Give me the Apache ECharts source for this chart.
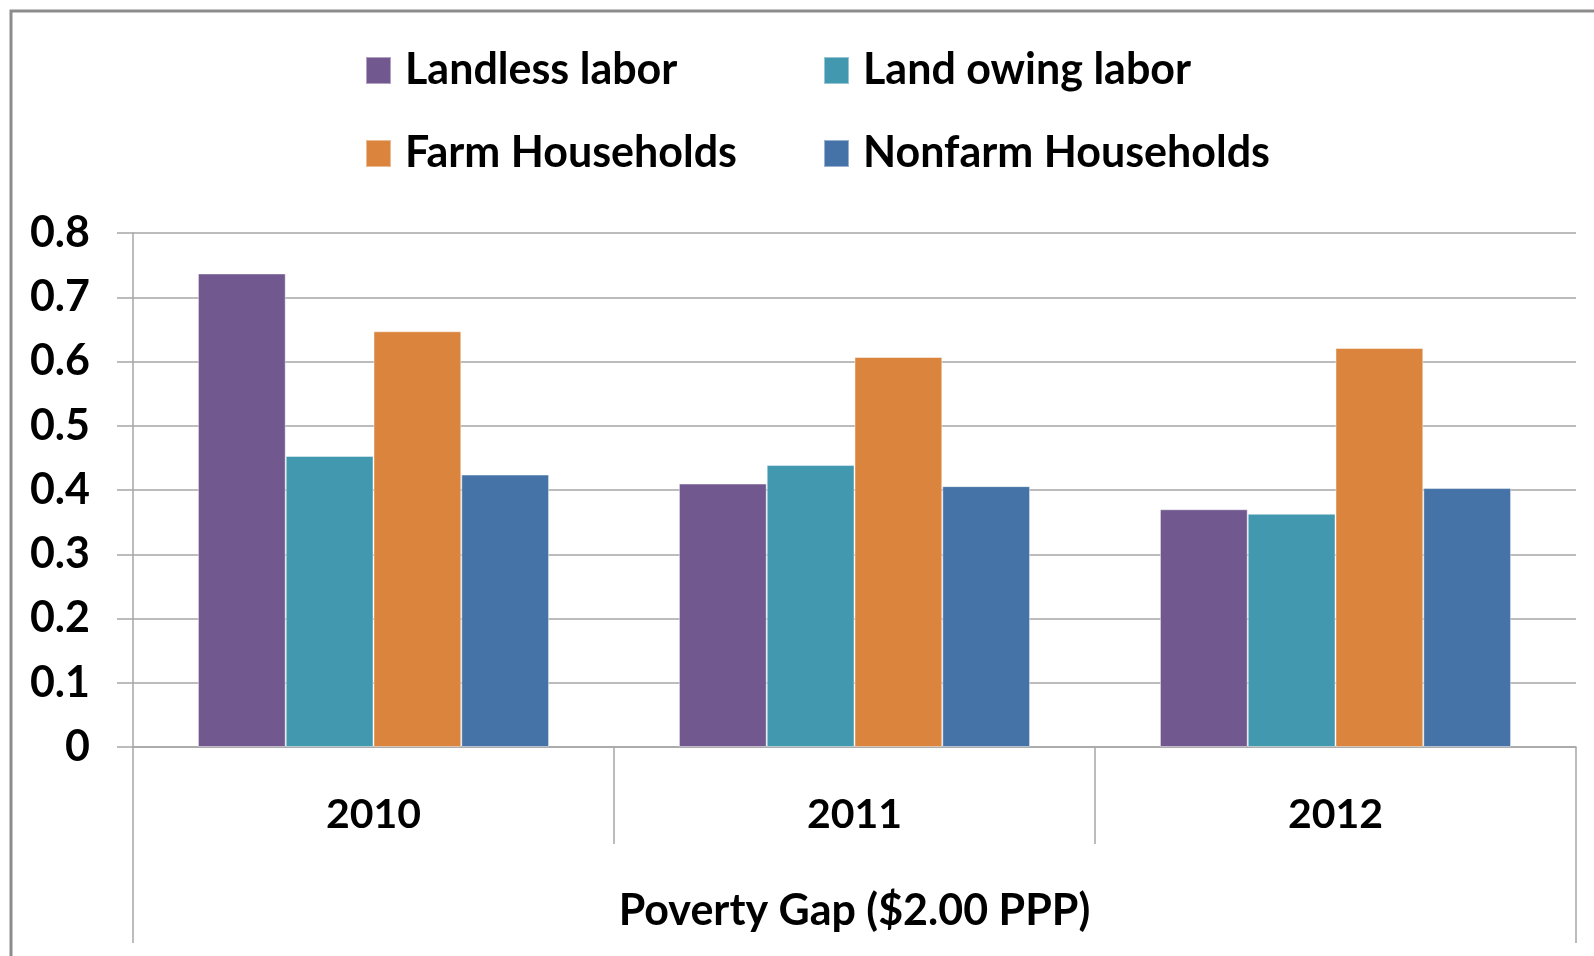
<!DOCTYPE html>
<html>
<head>
<meta charset="utf-8">
<style>
  html, body { margin: 0; padding: 0; background: #fff; }
  #chart { width: 1594px; height: 956px; }
</style>
<script src="https://cdn.jsdelivr.net/npm/echarts@6/dist/echarts.min.js"></script>
</head>
<body>
<div id="chart"></div>
<script>
  // data
  var years = ['2010', '2011', '2012'];
  var groupLabel = ['Poverty Gap ($2.00 PPP)'];
  var landless = [0.737, 0.410, 0.370];
  var landOwing = [0.453, 0.439, 0.363];
  var farm = [0.647, 0.607, 0.621];
  var nonfarm = [0.424, 0.406, 0.403];

  var font = 'Lato';
  var gray = '#a6a6a6';

  var chart = echarts.init(document.getElementById('chart'));

  function bar(name, color, data) {
    return {
      name: name,
      type: 'bar',
      data: data,
      barGap: 0,
      barCategoryGap: '27%',
      itemStyle: { color: color, borderColor: 'rgba(255,255,255,0.45)', borderWidth: 1 }
    };
  }

  var legendText = {
    fontFamily: font, fontWeight: 'bold', fontSize: 43, color: '#000',
    padding: [0, 0, 0, 9]
  };

  chart.setOption({
    animation: false,
    backgroundColor: '#fff',
    textStyle: { fontFamily: font },
    graphic: [{
      type: 'rect',
      shape: { x: 11, y: 11, width: 1700, height: 1100 },
      style: { fill: 'none', stroke: '#8c8c8c', lineWidth: 3 },
      silent: true
    }],
    legend: [{
      orient: 'vertical',
      left: 365, top: 49, padding: 0,
      itemWidth: 25, itemHeight: 27, itemGap: 40,
      icon: 'rect',
      textStyle: legendText,
      data: ['Landless labor', 'Farm Households']
    }, {
      orient: 'vertical',
      left: 823, top: 49, padding: 0,
      itemWidth: 25, itemHeight: 27, itemGap: 40,
      icon: 'rect',
      textStyle: legendText,
      data: ['Land owing labor', 'Nonfarm Households']
    }],
    grid: { left: 133, right: 18, top: 233, bottom: 209 },
    xAxis: [{
      type: 'category',
      data: years,
      position: 'bottom',
      axisLine: { show: true, lineStyle: { color: gray, width: 1.5 } },
      axisTick: { show: true, length: 97, lineStyle: { color: gray, width: 1.5 } },
      axisLabel: { margin: 47, fontFamily: font, fontWeight: 'bold', fontSize: 41, color: '#000' }
    }, {
      type: 'category',
      data: groupLabel,
      position: 'bottom',
      axisLine: { show: false },
      axisTick: { show: true, length: 196, lineStyle: { color: gray, width: 1.5 } },
      axisLabel: { margin: 143, fontFamily: font, fontWeight: 'bold', fontSize: 43, color: '#000' }
    }],
    yAxis: {
      type: 'value',
      min: 0, max: 0.8, interval: 0.1,
      axisLine: { show: true, lineStyle: { color: gray, width: 1.5 } },
      axisTick: { show: true, length: 16, lineStyle: { color: gray, width: 1.5 } },
      splitLine: { show: true, lineStyle: { color: gray, width: 1.5 } },
      axisLabel: {
        margin: 43, fontFamily: font, fontWeight: 'bold', fontSize: 43, color: '#000',
        formatter: function (v) { return v === 0 ? '0' : v.toFixed(1); }
      }
    },
    series: [
      bar('Landless labor', '#71588f', landless),
      bar('Land owing labor', '#4198af', landOwing),
      bar('Farm Households', '#db843d', farm),
      bar('Nonfarm Households', '#4572a7', nonfarm)
    ]
  });
</script>
</body>
</html>
